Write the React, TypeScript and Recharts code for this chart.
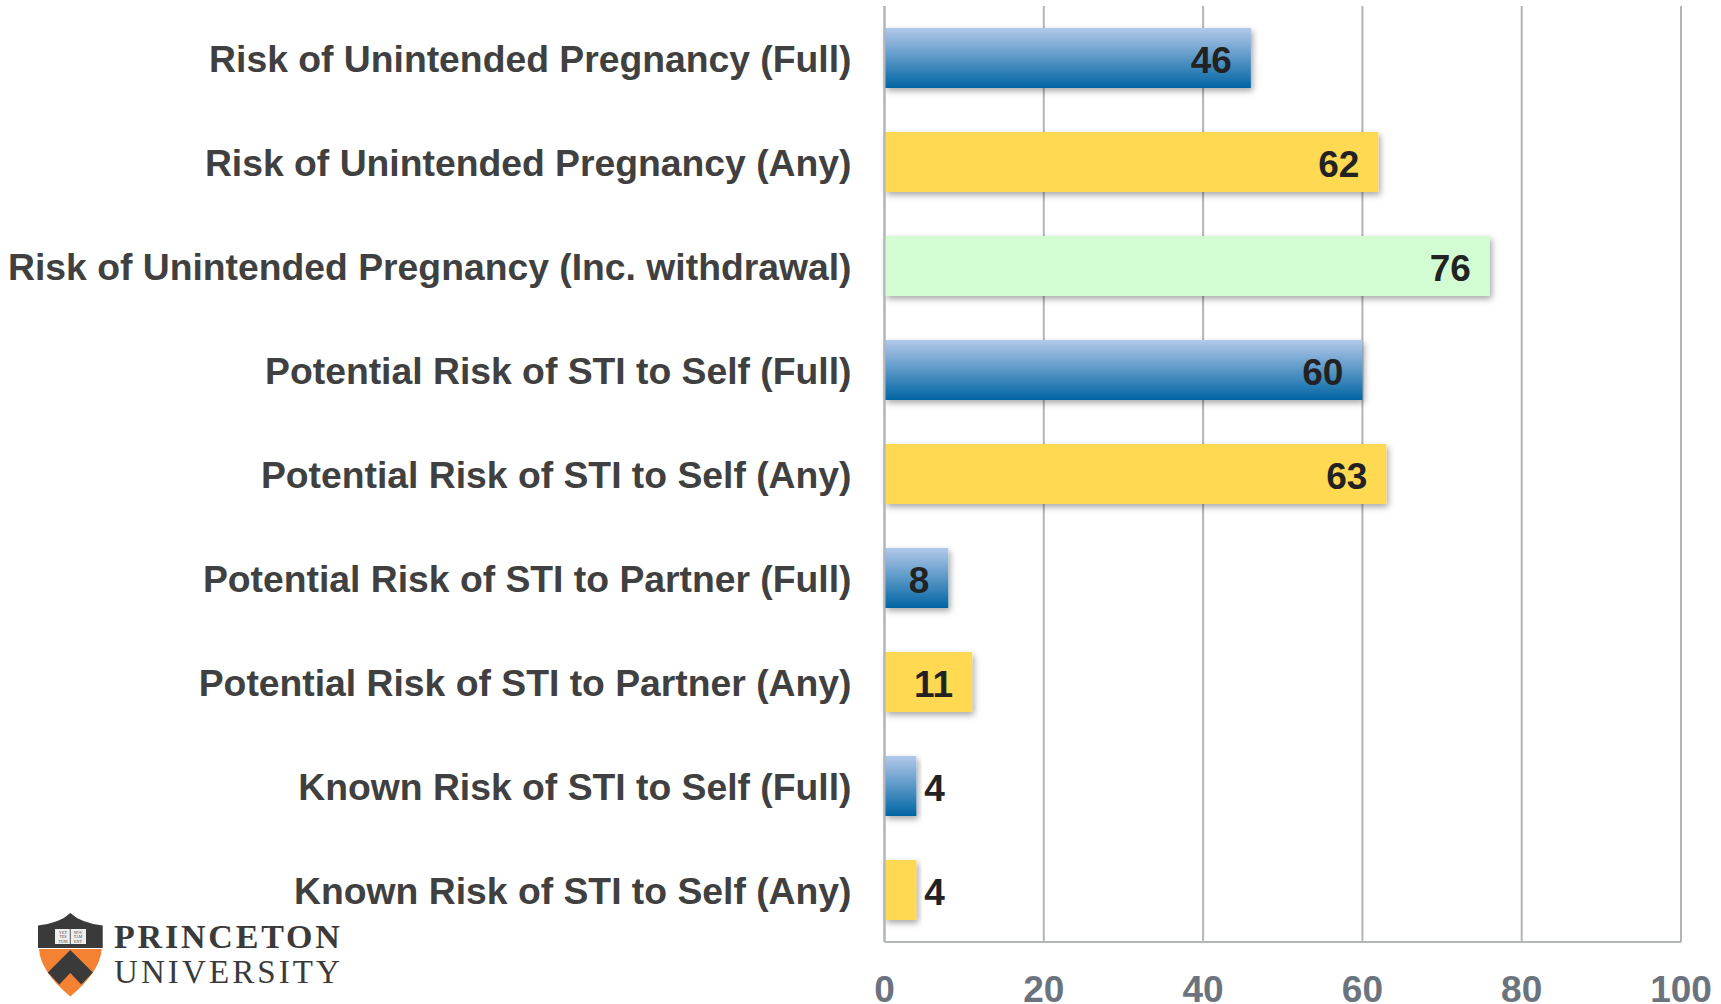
import { BarChart, Bar, Cell, XAxis, YAxis, CartesianGrid, LabelList } from 'recharts';

const categories = [
  'Risk of Unintended Pregnancy (Full)',
  'Risk of Unintended Pregnancy (Any)',
  'Risk of Unintended Pregnancy (Inc. withdrawal)',
  'Potential Risk of STI to Self (Full)',
  'Potential Risk of STI to Self (Any)',
  'Potential Risk of STI to Partner (Full)',
  'Potential Risk of STI to Partner (Any)',
  'Known Risk of STI to Self (Full)',
  'Known Risk of STI to Self (Any)',
];
const values = [46, 62, 76, 60, 63, 8, 11, 4, 4];
const groups = ['full', 'any', 'withdrawal', 'full', 'any', 'full', 'any', 'full', 'any'];
const xTicks = [0, 20, 40, 60, 80, 100];

const groupFill: Record<string, string> = {
  full: 'url(#blueBar)',
  any: '#ffd951',
  withdrawal: '#d2fdd2',
};

const data = categories.map((name, i) => ({ name, value: values[i], group: groups[i] }));

const FONT = '"Liberation Sans", Arial, sans-serif';
const GRID = '#b2b5b9';

function ValueLabel(props: any) {
  const { x, y, width, height, value } = props;
  const outside = value < 8;
  return (
    <text
      x={outside ? x + width + 8 : x + width - 19}
      y={y + height / 2 + 15}
      textAnchor={outside ? 'start' : 'end'}
      fontFamily={FONT}
      fontWeight="bold"
      fontSize={37}
      fill="#222222"
    >
      {value}
    </text>
  );
}

function PrincetonLogo() {
  return (
    <svg
      width={320}
      height={99}
      viewBox="0 0 320 99"
      style={{ position: 'absolute', left: 30, top: 906 }}
    >
      <path d="M8 19.5 Q30 17 40.3 7 Q51 17 72.7 19.5 L72.7 42 L8 42 Z" fill="#3a3a3a" />
      <path d="M9 43 L71.7 43 Q70 66 40.3 90.5 Q10.5 66 9 43 Z" fill="#f58233" />
      <path d="M40.3 44 L62.8 66.5 L51.3 78.5 L40.3 67 L29.3 78.5 L17.8 66.5 Z" fill="#3a3a3a" />
      <rect x="25" y="23" width="31" height="15" fill="#eeeeee" />
      <line x1="40.3" y1="23" x2="40.3" y2="38" stroke="#555555" strokeWidth={1} />
      <g fontFamily='"Liberation Serif", serif' fontSize={4} fill="#444444" textAnchor="middle">
        <text x="33" y="27.5">VET</text>
        <text x="33" y="32">TES</text>
        <text x="33" y="36.5">TUM</text>
        <text x="48" y="27.5">NOV</text>
        <text x="48" y="32">TAM</text>
        <text x="48" y="36.5">ENT</text>
      </g>
      <text x="84" y="42" fontFamily='"Liberation Serif", serif' fontWeight="bold" fontSize={34} letterSpacing={2.8} fill="#3a3a3a">
        PRINCETON
      </text>
      <text x="84" y="76.5" fontFamily='"Liberation Serif", serif' fontSize={33} letterSpacing={3.1} fill="#3a3a3a">
        UNIVERSITY
      </text>
    </svg>
  );
}

export default function App() {
  return (
    <div style={{ position: 'absolute', left: 0, top: 0, width: 1721, height: 1004, background: '#fff', overflow: 'hidden' }}>
      <BarChart
        layout="vertical"
        width={1721}
        height={1004}
        data={data}
        margin={{ top: 6, right: 40, bottom: 0, left: 0 }}
      >
        <defs>
          <linearGradient id="blueBar" x1="0" y1="0" x2="0" y2="1">
            <stop offset="0%" stopColor="#b3c9ea" />
            <stop offset="100%" stopColor="#0065a3" />
          </linearGradient>
          <filter id="barShadow" x="-10%" y="-10%" width="125%" height="130%">
            <feDropShadow dx="2" dy="3" stdDeviation="3" floodColor="#000000" floodOpacity="0.35" />
          </filter>
        </defs>
        <CartesianGrid horizontal={false} stroke={GRID} strokeWidth={2} />
        <XAxis
          type="number"
          domain={[0, 100]}
          ticks={xTicks}
          height={62}
          interval={0}
          tickLine={false}
          axisLine={{ stroke: GRID, strokeWidth: 2 }}
          tickMargin={28}
          tick={{ fontFamily: FONT, fontWeight: 'bold', fontSize: 37, fill: '#6b747e' }}
        />
        <YAxis
          type="category"
          dataKey="name"
          width={884.5}
          interval={0}
          tickLine={false}
          axisLine={{ stroke: GRID, strokeWidth: 2 }}
          tickMargin={27}
          tick={{ fontFamily: FONT, fontWeight: 'bold', fontSize: 37.3, fill: '#404040', dy: 1 }}
        />
        <Bar dataKey="value" barSize={60} isAnimationActive={false}>
          {data.map((d, i) => (
            <Cell key={`cell-${i}`} fill={groupFill[d.group]} filter="url(#barShadow)" />
          ))}
          <LabelList dataKey="value" content={ValueLabel} />
        </Bar>
      </BarChart>
      <PrincetonLogo />
    </div>
  );
}
